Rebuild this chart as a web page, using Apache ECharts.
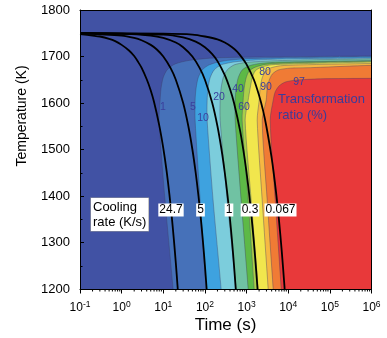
<!DOCTYPE html>
<html><head><meta charset="utf-8">
<script src="https://cdn.jsdelivr.net/npm/echarts@6/dist/echarts.min.js"></script>
<style>html,body{margin:0;padding:0;background:#fff}#c{width:387px;height:338px}</style>
</head><body><div id="c"></div>
<script>
// ---------- data (time in s, temperature in K) ----------
const contourLevels = [1, 5, 10, 20, 40, 50, 60, 80, 90, 97];
const contourColors = ['#4671B9', '#3EA2DF', '#7CCDDC', '#70C2A3', '#5DB946', '#A9CF4A', '#F1E64D', '#F6B842', '#F07B35', '#E8393A'];
const backgroundColor = '#4152A4';

const contour_1  = [[17.2,1200],[11.0,1391],[7.93,1563],[8.38,1606],[8.85,1632],[9.89,1654],[12.3,1671],[19.2,1684],[44.1,1692],[176,1697],[2124,1699],[1e6,1701]];
const contour_5  = [[107,1200],[76.7,1391],[58.1,1563],[58.1,1606],[61.4,1632],[68.7,1654],[85.7,1671],[126,1682],[259,1690],[925,1695],[6430,1697],[1e6,1699.5]];
const contour_10 = [[245,1200],[157,1391],[113,1563],[113,1606],[119,1632],[133,1654],[166,1671],[245,1682],[476,1688],[1611,1692.5],[11170,1695],[1e6,1697]];
const contour_20 = [[562,1200],[342,1391],[232,1563],[232,1606],[245,1632],[274,1654],[342,1671],[504,1682],[925,1687],[2800,1690],[19420,1692.5],[1e6,1695]];
const contour_40 = [[1092,1200],[741,1391],[532,1563],[532,1606],[562,1632],[628,1654],[783,1671],[1156,1680],[2124,1685],[6430,1688],[1e6,1691]];
const contour_50 = [[1524,1200],[1092,1391],[783,1563],[828,1606],[875,1632],[977,1654],[1156,1669],[1611,1677],[2800,1683],[8470,1686],[1e6,1690]];
const contour_60 = [[1901,1200],[1291,1391],[925,1563],[1092,1606],[1222,1632],[1365,1654],[1611,1669],[2245,1677],[3899,1682],[11170,1684],[1e6,1688]];
const contour_80 = [[3304,1200],[2372,1391],[1799,1563],[2010,1606],[2124,1632],[2372,1654],[2800,1667],[3690,1675],[6430,1680],[19420,1682],[1e6,1685]];
const contour_90 = [[4355,1200],[3127,1391],[2372,1563],[2959,1606],[3127,1632],[3492,1649],[4121,1662],[5750,1671],[11170,1675],[33800,1676],[1e6,1681]];
const contour_97 = [[6790,1200],[4870,1391],[3690,1563],[4355,1606],[4870,1624],[6080,1637],[8470,1645],[14730,1649],[58800,1652],[1e6,1653]];

const coolingRates = ['24.7', '5', '1', '0.3', '0.067'];
const cool_24_7 = [[0.1,1748],[0.2,1745],[0.3,1743],[0.5,1738],[0.7,1733],[1,1725],[1.5,1713],[2,1701],[2.5,1688],[3,1676],[4,1651],[5,1627],[6,1602],[8,1552],[10,1503],[12,1454],[14,1404],[16,1355],[18,1305],[20,1256],[22.3,1199]];
const cool_5    = [[0.1,1750],[1,1745],[2,1740],[3,1735],[5,1725],[7,1715],[10,1700],[15,1675],[20,1650],[30,1600],[40,1550],[50,1500],[60,1450],[70,1400],[80,1350],[90,1300],[100,1250],[110,1200]];
const cool_1    = [[0.1,1750],[1,1749],[5,1745],[10,1740],[20,1730],[30,1720],[50,1700],[75,1675],[100,1650],[150,1600],[200,1550],[250,1500],[300,1450],[350,1400],[400,1350],[450,1300],[500,1250],[550,1200]];
const cool_0_3  = [[0.1,1750],[10,1747],[30,1741],[60,1732],[100,1720],[150,1705],[200,1690],[300,1660],[400,1630],[500,1600],[700,1540],[900,1480],[1100,1420],[1300,1360],[1500,1300],[1700,1240],[1833,1200]];
const cool_0_067= [[0.1,1750],[10,1749],[50,1747],[100,1743],[200,1737],[300,1730],[450,1720],[600,1710],[800,1696],[1000,1683],[1500,1650],[2000,1616],[2500,1583],[3000,1549],[4000,1482],[5000,1415],[6000,1348],[7000,1281],[8000,1214],[8209,1200]];

const yTicks = [1200, 1300, 1400, 1500, 1600, 1700, 1800];
const xMin = 0.1, xMax = 1e6;

// ---------- chart ----------
const contourSets = [contour_1, contour_5, contour_10, contour_20, contour_40, contour_50, contour_60, contour_80, contour_90, contour_97];
const coolSets = [cool_24_7, cool_5, cool_1, cool_0_3, cool_0_067];

const minorTickTimes = [];
for (let e = -1; e < 6; e++) for (let k = 2; k <= 9; k++) minorTickTimes.push([k * Math.pow(10, e), yTicks[0]]);

const FONT = '"Liberation Sans", Arial, sans-serif';
const chart = echarts.init(document.getElementById('c'), null, {renderer: 'canvas'});

const series = [];
series.push({
  type: 'custom', coordinateSystem: 'cartesian2d', clip: true, silent: true, z: 2,
  data: contourSets.map((pts, i) => [pts[0][0], pts[0][1], i]),
  encode: {x: 0, y: 1},
  renderItem: function (params, api) {
    const i = api.value(2);
    const pts = contourSets[i].map(p => api.coord(p));
    const cs = params.coordSys;
    const right = cs.x + cs.width + 30, bottom = cs.y + cs.height + 30;
    const first = pts[0], last = pts[pts.length - 1];
    const poly = pts.concat([[right, last[1]], [right, bottom], [first[0] + 2, bottom]]);
    return {
      type: 'polygon',
      shape: {points: poly, smooth: 0.25},
      style: {fill: contourColors[i], stroke: 'rgba(60,60,100,0.55)', lineWidth: 0.7}
    };
  }
});
coolSets.forEach((d, i) => {
  series.push({
    type: 'line', name: coolingRates[i], data: d, showSymbol: false, symbol: 'none',
    smooth: 0.3, clip: true, silent: true, z: 5,
    lineStyle: {color: '#000', width: 1.8}
  });
});
series.push({
  type: 'custom', coordinateSystem: 'cartesian2d', clip: false, silent: true, z: 6,
  data: minorTickTimes, encode: {x: 0, y: 1},
  renderItem: function (params, api) {
    const p = api.coord([api.value(0), api.value(1)]);
    return {type: 'line', shape: {x1: p[0], y1: p[1], x2: p[0], y2: p[1] + 2.5}, style: {stroke: '#000', lineWidth: 1}};
  }
});

const graphic = [];
graphic.push({type: 'text', x: 22, y: 116, rotation: Math.PI / 2, z: 100,
  style: {text: 'Temperature (K)', font: '14px ' + FONT, fill: '#000', align: 'center', verticalAlign: 'middle'}});
graphic.push({type: 'text', x: 225.5, y: 325, z: 100,
  style: {text: 'Time (s)', font: '17px ' + FONT, fill: '#000', align: 'center', verticalAlign: 'middle'}});
graphic.push({type: 'text', x: 91, y: 198, z: 100,
  style: {text: 'Cooling\nrate (K/s)', font: '13px ' + FONT, fill: '#000', lineHeight: 15,
    backgroundColor: '#fff', borderColor: '#999', borderWidth: 0.6, padding: [2, 2, 1, 2]}});
const rateLabelPos = [[171, 210], [200.5, 210], [229, 210], [250, 210], [280.5, 210]];
coolingRates.forEach((r, i) => {
  graphic.push({type: 'text', x: rateLabelPos[i][0], y: rateLabelPos[i][1], z: 100,
    style: {text: r, font: '12px ' + FONT, fill: '#000', align: 'center', verticalAlign: 'middle',
      backgroundColor: '#fff', padding: [1, 1, 0, 1]}});
});
const contourLabelText = ['1', '5', '10', '20', '40', '60', '80', '90', '97'];
const contourLabelPos = [[163, 107], [193, 107], [203, 118], [219, 97], [238, 89], [244, 107], [265, 72], [266, 87], [299, 82]];
contourLabelText.forEach((t, i) => {
  graphic.push({type: 'text', x: contourLabelPos[i][0], y: contourLabelPos[i][1], z: 100,
    style: {text: t, font: '10.5px ' + FONT, fill: '#3B3F9C', align: 'center', verticalAlign: 'middle'}});
});
graphic.push({type: 'text', x: 278, y: 91, z: 100,
  style: {text: 'Transformation\nratio (%)', font: '13px ' + FONT, fill: '#3A3D9B', lineHeight: 16}});

chart.setOption({
  animation: false,
  backgroundColor: '#fff',
  grid: {left: 80, right: 15.5, top: 10, bottom: 49, show: true, backgroundColor: backgroundColor, borderWidth: 0},
  xAxis: [{
    type: 'log', logBase: 10, min: xMin, max: xMax, z: 10,
    axisLine: {show: true, onZero: false, lineStyle: {color: '#000', width: 1}},
    axisTick: {show: true, inside: false, length: 4.5, lineStyle: {color: '#000'}},
    minorTick: {show: false},
    splitLine: {show: false},
    axisLabel: {
      margin: 11, color: '#000',
      formatter: function (v) { const e = Math.round(Math.log10(v)); return '{b|10}{s|' + e + '}'; },
      rich: {b: {fontSize: 12, fontFamily: FONT, lineHeight: 16, color: '#000'},
             s: {fontSize: 8.5, fontFamily: FONT, lineHeight: 16, verticalAlign: 'top', color: '#000'}}
    }
  }, {
    type: 'log', logBase: 10, min: xMin, max: xMax, position: 'top', z: 10,
    axisLine: {show: true, onZero: false, lineStyle: {color: '#000', width: 1}},
    axisTick: {show: false}, axisLabel: {show: false}, splitLine: {show: false}
  }],
  yAxis: [{
    type: 'value', min: yTicks[0], max: yTicks[yTicks.length - 1], interval: 100, z: 10,
    axisLine: {show: true, onZero: false, lineStyle: {color: '#000', width: 1}},
    axisTick: {show: true, inside: true, length: 4, lineStyle: {color: '#000'}},
    minorTick: {show: true, splitNumber: 2, length: 2.5, lineStyle: {color: '#000'}},
    splitLine: {show: false},
    axisLabel: {margin: 10, color: '#000', fontSize: 13, fontFamily: FONT, formatter: function (v) { return String(v); }}
  }, {
    type: 'value', min: yTicks[0], max: yTicks[yTicks.length - 1], position: 'right', z: 10,
    axisLine: {show: true, onZero: false, lineStyle: {color: '#000', width: 1}},
    axisTick: {show: false}, axisLabel: {show: false}, splitLine: {show: false}
  }],
  series: series,
  graphic: graphic
});
</script></body></html>
